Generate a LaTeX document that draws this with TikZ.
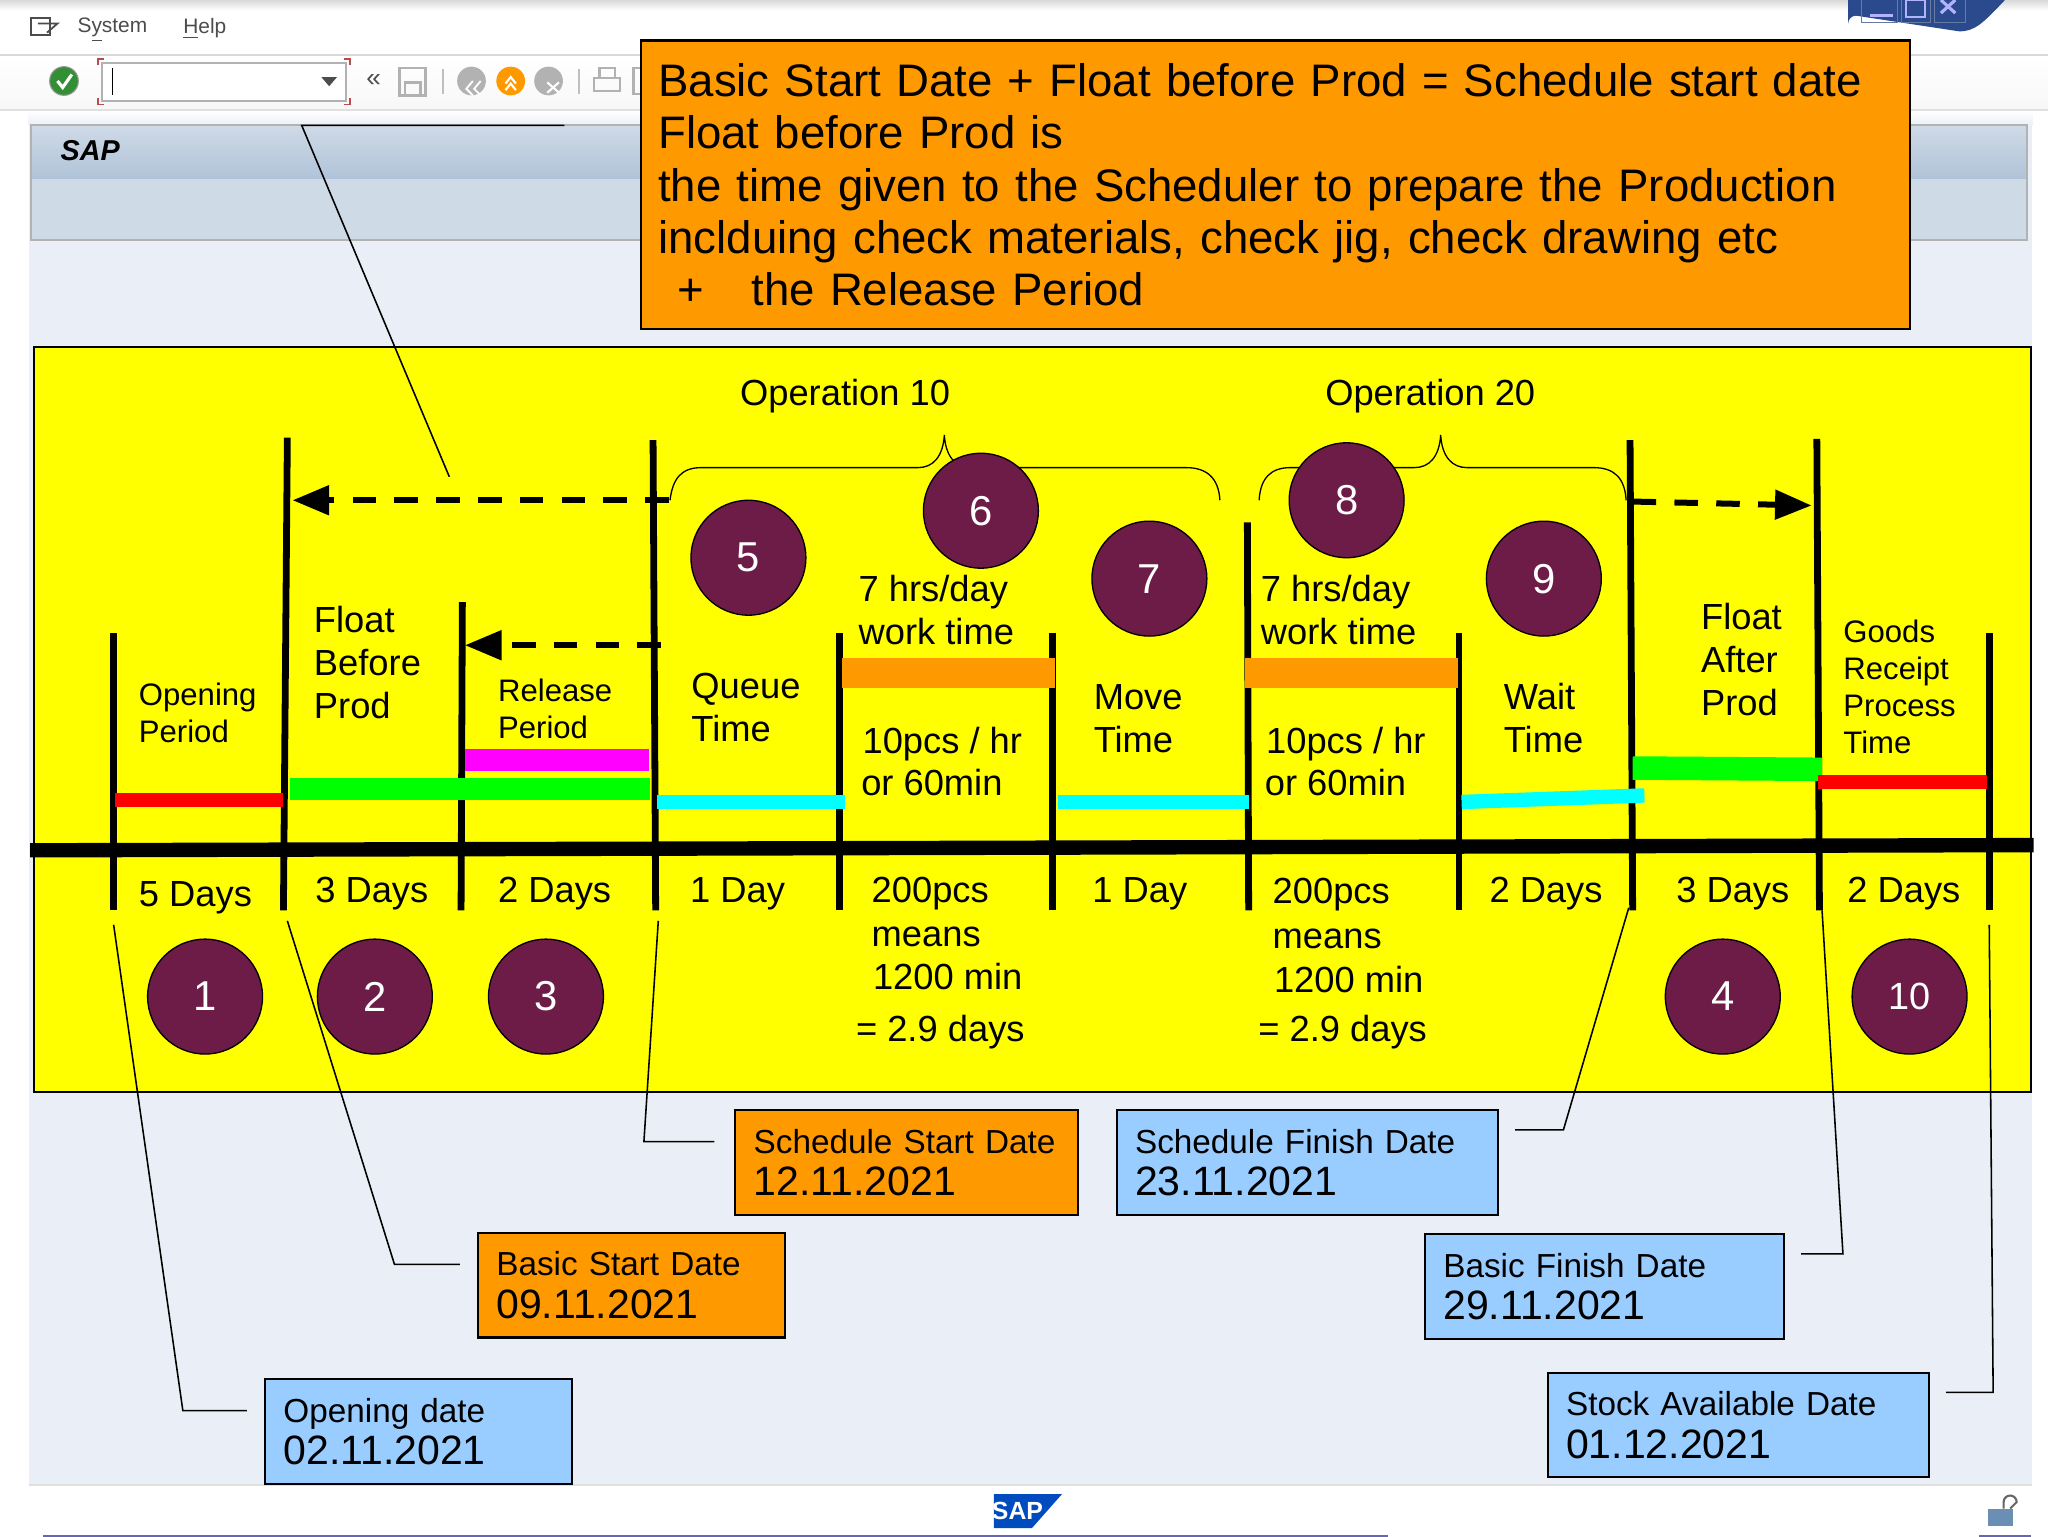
\documentclass[tikz,border=0pt]{standalone}
\usepackage{fontspec}
\setmainfont{Liberation Sans}
\usetikzlibrary{arrows.meta}
\definecolor{sapplum}{HTML}{6D1B47}
\definecolor{boxorange}{HTML}{FF9900}
\definecolor{boxblue}{HTML}{99CCFF}
\definecolor{panelgrey}{HTML}{EAEEF6}
\definecolor{headblue}{HTML}{CFDAE7}
\definecolor{headdark}{HTML}{AFC3D8}
\definecolor{winblue}{HTML}{2B4A8E}
\definecolor{pureyellow}{HTML}{FFFF00}
\definecolor{purecyan}{HTML}{00FFFF}
\definecolor{puremagenta}{HTML}{FF00FF}
\definecolor{puregreen}{HTML}{00FF00}
\definecolor{purered}{HTML}{FF0000}
\tikzset{
  lbl/.style={anchor=west, align=left, inner sep=0pt, font=\fontsize{13.9}{16.5}\selectfont},
  smalllbl/.style={lbl, font=\fontsize{11.9}{14.2}\selectfont},
  circ/.style={circle, draw=black, line width=0.5pt, fill=sapplum, text=white, minimum size=44pt, inner sep=0pt, font=\fontsize{16}{18}\selectfont},
  datebox/.style={anchor=north west, draw=black, line width=0.8pt, outer sep=0pt, minimum height=40pt, inner xsep=7pt, inner ysep=0pt, align=left, text width=#1, font=\fontsize{12.75}{16.2}\selectfont},
  orangebox/.style={datebox=#1, fill=boxorange},
  bluebox/.style={datebox=#1, fill=boxblue},
  leader/.style={line width=0.6pt},
  tick/.style={line width=2.6pt},
  dasharrow/.style={line width=2.3pt, dash pattern=on 9pt off 7pt, -{Triangle[length=14pt,width=11pt]}},
  brace/.style={line width=0.5pt}
}
\newcommand{\boxtitle}[2]{#1\\{\fontsize{15.7}{15.5}\selectfont #2}}
\begin{document}
\begin{tikzpicture}[x=0.5pt, y=-0.5pt]
\useasboundingbox (0,0) rectangle (1568,1176.75);
%%%%% Window %%%%%
\fill[white] (0,0) rectangle (1568,1176.75);
\shade[top color=black!15, bottom color=white] (0,0) rectangle (1568,8);
\shade[top color=white, bottom color=black!3] (0,43) rectangle (1568,84);
\draw[black!15, line width=0.8pt] (0,42)--(1568,42);
\draw[black!12, line width=0.8pt] (0,84)--(1568,84);
\shade[top color=white, bottom color=panelgrey] (22,85) rectangle (1556,96);
\fill[panelgrey] (22,96) rectangle (1556,1137);
\draw[black!12, line width=0.5pt] (22,1137)--(1556,1137);
\shade[top color=headblue, bottom color=headdark] (24,96) rectangle (1552,137);
\fill[headblue] (24,137) rectangle (1552,184);
\draw[black!30, line width=0.8pt] (24,96) rectangle (1552,184);
\node[anchor=west, inner sep=0pt, font=\fontsize{11}{14}\selectfont\bfseries\itshape] (saphead) at (46,115) {SAP};
%%%%% Menu and toolbar %%%%%
\draw[black!70, line width=0.7pt] (24,14) rectangle (38,27);
\draw[black!70, line width=0.7pt] (29,18)--(44,18)--(36,25);
\node[anchor=west, inner sep=0pt, text=black!70, font=\fontsize{8}{10}\selectfont] (menusys) at (59,23) {S\underline{y}stem};
\node[anchor=west, inner sep=0pt, text=black!70, font=\fontsize{8}{10}\selectfont] (menuhelp) at (140,22) {\underline{H}elp};
\fill[green!45!black!80, draw=black!40, line width=0.4pt] (49,62) circle (5.5pt);
\draw[white, line width=1.2pt] (44,62)--(48,67)--(55,57);
\draw[fill=white, draw=black!30, line width=0.8pt] (78,48) rectangle (265,77);
\draw[red!60!black!70, line width=0.7pt] (80,45)--(75,45)--(75,50);
\draw[red!60!black!70, line width=0.7pt] (263,45)--(268,45)--(268,50);
\draw[red!60!black!70, line width=0.7pt] (80,80)--(75,80)--(75,75);
\draw[red!60!black!70, line width=0.7pt] (263,80)--(268,80)--(268,75);
\draw[black, line width=0.5pt] (86,52)--(86,73);
\fill[black!70] (246,59)--(258,59)--(252,66)--cycle;
\node[inner sep=0pt, text=black!70, font=\fontsize{10}{12}\selectfont] (tbmore) at (286,62) {«};
\draw[black!30, line width=1pt] (306,52) rectangle (326,73);
\draw[black!30, line width=1pt] (310,63) rectangle (322,73);
\draw[black!25, line width=0.8pt] (339,53)--(339,72);
\fill[black!30] (361,62) circle (5.5pt);
\draw[white, line width=0.7pt] (362,62)--(357,68)--(362,73);
\draw[white, line width=0.7pt] (368,62)--(363,68)--(368,73);
\fill[orange!80!yellow] (391,62) circle (5.5pt);
\draw[white, line width=0.8pt] (387,64)--(391,59)--(395,64);
\draw[white, line width=0.8pt] (387,69)--(391,64)--(395,69);
\fill[black!30] (420,62) circle (5.5pt);
\draw[white, line width=0.8pt] (419,63)--(428,71);
\draw[white, line width=0.8pt] (428,63)--(419,71);
\draw[black!25, line width=0.8pt] (443,53)--(443,72);
\draw[black!30, line width=0.8pt] (459,52) rectangle (471,60);
\draw[black!30, line width=0.8pt] (455,60) rectangle (475,70);
\draw[black!30, line width=0.8pt] (485,52) rectangle (495,72);
\fill[winblue] (1415,0)--(1415,18) arc[start angle=180, end angle=90, radius=3pt]--(1500,24) .. controls (1512,24) and (1518,18) .. (1535,0)--cycle;
\draw[black!15!winblue!70!white, line width=0.4pt] (1425,-2) rectangle (1453,17);
\draw[black!15!winblue!70!white, line width=0.4pt] (1456,-2) rectangle (1478,17);
\draw[black!15!winblue!70!white, line width=0.4pt] (1481,-2) rectangle (1505,17);
\draw[white!70!blue, line width=1pt] (1432,12)--(1449,12);
\draw[white!70!blue, line width=0.7pt] (1459,0) rectangle (1474,13);
\draw[white!70!blue, line width=1.2pt] (1486,0)--(1497,10);
\draw[white!70!blue, line width=1.2pt] (1497,0)--(1486,10);
%%%%% Bottom strip %%%%%
\fill[blue!50!black!60] (33,1175) rectangle (1063,1176.75);
\fill[blue!50!black!60] (1515,1175) rectangle (1555,1176.75);
\fill[blue!60!cyan!75!black] (761,1144)--(813,1144)--(790,1170)--(761,1170)--cycle;
\node[inner sep=0pt, text=white, font=\fontsize{9.5}{11}\selectfont\bfseries] (saplogo) at (779,1157) {SAP};
\fill[boxblue!70!black] (1522,1155) rectangle (1541,1168);
\draw[black!60, line width=0.8pt] (1534,1155)--(1534,1150) arc[start angle=180, end angle=0, radius=2.5pt]--(1539,1155);
%%%%% Yellow panel %%%%%
\draw[fill=pureyellow, draw=black, line width=0.8pt] (26,266) rectangle (1555,836);
%%%%% Time lines %%%%%
\foreach \xt/\yt/\xb in {87/485/87,220/335/217,354/461/353,500/337/502,643/485/643,806/485/806,955/400/956,1117/485/1117,1248/337/1250,1391/336/1393,1523/485/1523}{
\draw[tick] (\xt,\yt)--(\xb,697);
}
\draw[line width=5.5pt] (23,651)--(1557,647);
%%%%% Bars %%%%%
\draw[line width=5.5pt, color=purered] (88,612.5)--(217,612.5);
\draw[line width=8.5pt, color=puregreen] (222,604)--(498,604);
\draw[line width=8.5pt, color=puremagenta] (356,582)--(497,582);
\draw[line width=5.5pt, color=purecyan] (503,614)--(647,614);
\draw[line width=11.5pt, color=boxorange] (645,515)--(808,515);
\draw[line width=5.5pt, color=purecyan] (810,614)--(956,614);
\draw[line width=11.5pt, color=boxorange] (953,515)--(1116,515);
\draw[line width=5.5pt, color=purecyan] (1119,614)--(1259,609);
\draw[line width=9pt, color=puregreen] (1250,588)--(1395,589);
\draw[line width=5.5pt, color=purered] (1392,598.5)--(1521,598.5);
%%%%% Braces %%%%%
\draw[brace] (513,383) .. controls (515,366) and (522,358) .. (537,358)--(703,358) .. controls (714,358) and (722,350) .. (723,333) .. controls (724,350) and (732,358) .. (743,358)--(908,358) .. controls (924,358) and (933,366) .. (934,383);
\draw[brace] (964,383) .. controls (965,366) and (973,358) .. (988,358)--(1083,358) .. controls (1094,358) and (1102,350) .. (1103,333) .. controls (1104,350) and (1112,358) .. (1123,358)--(1220,358) .. controls (1236,358) and (1244,366) .. (1245,383);
\node[lbl, anchor=center] (optitlea) at (647,303) {Operation 10};
\node[lbl, anchor=center] (optitleb) at (1095,303) {Operation 20};
%%%%% Dashed arrows %%%%%
\coordinate (fbpa) at (512,383);
\coordinate (fbpb) at (224,383);
\coordinate (rela) at (506,494);
\coordinate (relb) at (356,494);
\coordinate (fapa) at (1250,384);
\coordinate (fapb) at (1387,387);
\draw[dasharrow] (fbpa)--(fbpb);
\draw[dasharrow] (rela)--(relb);
\draw[dasharrow] (fapa)--(fapb);
%%%%% Circles %%%%%
\node[circ] (stepa) at (157,763) {1};
\node[circ] (stepb) at (287,763) {2};
\node[circ] (stepc) at (418,763) {3};
\node[circ] (stepd) at (1319,763) {4};
\node[circ] (stepe) at (573,427) {5};
\node[circ] (stepf) at (751,391) {6};
\node[circ] (stepg) at (880,443) {7};
\node[circ] (steph) at (1031,383) {8};
\node[circ] (stepi) at (1182,443) {9};
\node[circ, font=\fontsize{14.5}{16}\selectfont] (stepj) at (1462,763) {10};
%%%%% Labels above the line %%%%%
\node[smalllbl] (lopen) at (106,546) {Opening\\Period};
\node[lbl] (lfloatb) at (240,507) {Float\\Before\\Prod};
\node[smalllbl] (lrel) at (381,543) {Release\\Period};
\node[lbl] (lqueue) at (529,542) {Queue\\Time};
\node[lbl] (lhrsa) at (657,467) {7 hrs/day\\work time};
\node[lbl] (lpcsa) at (660,583) {10pcs / hr\\[-0.5pt]\hspace*{-0.5pt}or 60min};
\node[lbl] (lmove) at (837,550) {Move\\Time};
\node[lbl] (lhrsb) at (965,467) {7 hrs/day\\work time};
\node[lbl] (lpcsb) at (969,583) {10pcs / hr\\[-0.5pt]\hspace*{-0.5pt}or 60min};
\node[lbl] (lwait) at (1151,550) {Wait\\Time};
\node[lbl] (lfloata) at (1302,505) {Float\\After\\Prod};
\node[smalllbl] (lgoods) at (1411,526) {Goods\\Receipt\\Process\\Time};
%%%%% Labels below the line %%%%%
\foreach \xx/\yy/\dd [count=\n] in {106/687/5 Days,241/684/3 Days,381/684/2 Days,528/684/1 Day,836/684/1 Day,1140/684/2 Days,1283/684/3 Days,1414/684/2 Days}{
\node[lbl] (dur\n) at (\xx,\yy) {\dd};
}
\node[lbl] (pcsa) at (667,684) {200pcs};
\node[lbl] (meana) at (667,717) {means};
\node[lbl] (mina) at (668,748) {1200 min};
\node[lbl] (daysa) at (655,790) {= 2.9 days};
\node[lbl] (pcsb) at (974,685) {200pcs};
\node[lbl] (meanb) at (974,719) {means};
\node[lbl] (minb) at (975,750) {1200 min};
\node[lbl] (daysb) at (963,790) {= 2.9 days};
%%%%% Top note %%%%%
\node[orangebox=472.5pt, inner xsep=6.5pt, minimum height=110.5pt, font=\fontsize{17.45}{20}\selectfont] (topnote) at (491,31) {Basic Start Date + Float before Prod = Schedule start date\\Float before Prod is\\the time given to the Scheduler to prepare the Production\\inclduing check materials, check jig, check drawing etc\\\hspace*{7.5pt}+\hspace*{18pt}the Release Period};
%%%%% Date boxes %%%%%
\node[orangebox=117pt] (schedstart) at (563,850) {\boxtitle{Schedule Start Date}{12.11.2021}};
\node[bluebox=132pt] (schedfinish) at (855,850) {\boxtitle{Schedule Finish Date}{23.11.2021}};
\node[orangebox=103.5pt] (basicstart) at (366,944) {\boxtitle{Basic Start Date}{09.11.2021}};
\node[bluebox=123.5pt] (basicfinish) at (1091,945) {\boxtitle{Basic Finish Date}{29.11.2021}};
\node[bluebox=103.5pt] (opendate) at (203,1056) {\boxtitle{Opening date}{02.11.2021}};
\node[bluebox=132pt] (stockdate) at (1185,1051) {\boxtitle{Stock Available Date}{01.12.2021}};
%%%%% Leaders %%%%%
\coordinate (lfree) at (432,96);
\coordinate (lbend) at (231,96);
\coordinate (ltip) at (344,365);
\draw[leader] (lfree)--(lbend)--(ltip);
\foreach \xs/\ys/\xm/\xe/\ye in {547/874/493/504/705,1160/865/1197/1247/695,352/968/302/220/705,1379/960/1411/1395/697,189/1080/140/87/708,1490/1066/1526/1523/708}{
\coordinate (ls) at (\xs,\ys);
\coordinate (lm) at (\xm,\ys);
\coordinate (le) at (\xe,\ye);
\draw[leader] (ls)--(lm)--(le);
}
\end{tikzpicture}
\end{document}
